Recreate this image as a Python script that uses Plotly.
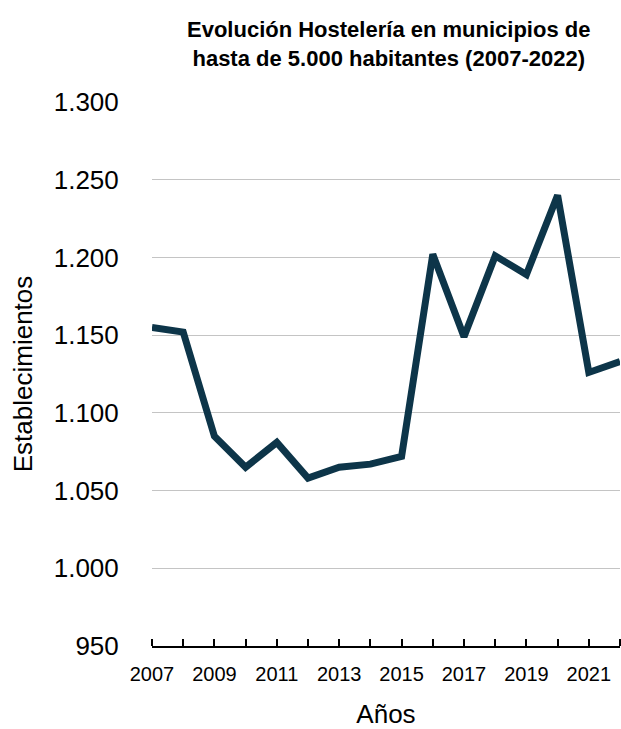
import plotly.graph_objects as go

years = list(range(2007, 2023))
establecimientos = [1155, 1152, 1085, 1065, 1081, 1058, 1065, 1067, 1072, 1202, 1149, 1201, 1189, 1240, 1126, 1133]
ytick_vals = [950, 1000, 1050, 1100, 1150, 1200, 1250, 1300]
ytick_text = ["950", "1.000", "1.050", "1.100", "1.150", "1.200", "1.250", "1.300"]
xtick_vals = list(range(2007, 2022, 2))
title_text = "<b>Evolución Hostelería en municipios de<br>hasta de 5.000 habitantes (2007-2022)</b>"

fig = go.Figure()
fig.add_trace(go.Scatter(
    x=years, y=establecimientos, mode="lines",
    line=dict(color="#0d3549", width=7),
    cliponaxis=False, hoverinfo="x+y",
))

fig.add_annotation(
    text=title_text, xref="paper", yref="paper",
    x=0.505, y=1 + (102 - 44) / 544, xanchor="center", yanchor="middle",
    showarrow=False, align="center",
    font=dict(family="Liberation Sans, Arial, sans-serif", size=22, color="black"),
)

fig.update_layout(
    width=621, height=729,
    margin=dict(l=152, r=1, t=102, b=83),
    paper_bgcolor="white", plot_bgcolor="white",
    showlegend=False,
    font=dict(family="Liberation Sans, Arial, sans-serif", color="black"),
    xaxis=dict(
        range=[2007, 2022],
        tickmode="array", tickvals=xtick_vals, ticktext=[str(v) for v in xtick_vals],
        showgrid=False, zeroline=False,
        showline=True, linecolor="black", linewidth=2,
        ticks="", tickfont=dict(size=20), ticklabelstandoff=9,
        minor=dict(ticks="inside", ticklen=7, tickwidth=2, tickcolor="black", dtick=1, tick0=2007, showgrid=False),
        title=dict(text="Años", font=dict(size=26), standoff=24),
    ),
    yaxis=dict(
        range=[950, 1300],
        tickmode="array", tickvals=ytick_vals, ticktext=ytick_text,
        showgrid=True, gridcolor="#c4c4c4", gridwidth=1,
        zeroline=False, showline=False, ticks="outside", ticklen=27, tickcolor="rgba(0,0,0,0)",
        tickfont=dict(size=26),
        title=dict(text="Establecimientos", font=dict(size=26), standoff=13),
    ),
)

fig.write_html("out.html")
